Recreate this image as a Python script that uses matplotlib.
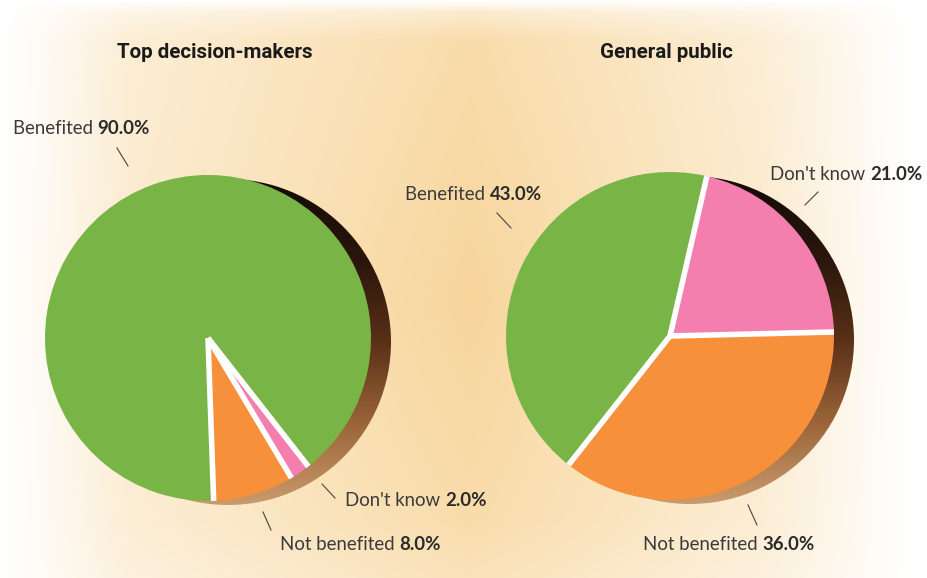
import numpy as np
import matplotlib
matplotlib.use("Agg")
import matplotlib.pyplot as plt
from matplotlib.patches import Circle
from matplotlib.colors import LinearSegmentedColormap

# ---- data ----
categories = ['Benefited', 'Not benefited', "Don't know"]
left_values = [90.0, 8.0, 2.0]
right_values = [43.0, 36.0, 21.0]
titles = ['Top decision-makers', 'General public']
colors = ['#79b446', '#f7903a', '#f47fae']

W, H = 928, 578
fig = plt.figure(figsize=(W / 100, H / 100), dpi=100)
ax = fig.add_axes([0, 0, 1, 1])

# ---- background gradient ----
xs = np.arange(W)
ys = np.arange(H)
hx = np.interp(xs, [0, 60, 130, 300, 470, 560, 760, 850, 900, 928],
               [0.0, 0.2, 0.5, 0.75, 1.0, 0.85, 0.5, 0.2, 0.03, 0.0])
vy = np.interp(ys, [0, 12, 40, 300, 520, 578], [0.0, 0.5, 0.85, 1.0, 0.85, 0.7])
t = np.outer(vy, hx)[..., None]
white = np.array([1.0, 1.0, 1.0])
peach = np.array([0xf8, 0xd6, 0x9c]) / 255
bg = white * (1 - t) + peach * t
ax.imshow(bg, extent=(0, W, 0, H), origin='upper', zorder=0, aspect='auto')

shadow_cmap = LinearSegmentedColormap.from_list(
    'sh', ['#c99a6c', '#9a6438', '#5a3018', '#2a160c', '#150b06'])

pies = [
    dict(values=left_values, c=(208, 240), r=163, start=-52, title_x=215),
    dict(values=right_values, c=(670, 242), r=164, start=77, title_x=666),
]

for p, title in zip(pies, titles):
    cx, cy = p['c']
    r = p['r']
    sx, sy = cx + 20, cy - 4
    grad = np.linspace(0, 1, 200)[:, None] * np.ones((1, 10))
    im = ax.imshow(grad, extent=(sx - r, sx + r, sy - r, sy + r), origin='lower',
                   cmap=shadow_cmap, zorder=1, aspect='auto')
    im.set_clip_path(Circle((sx, sy), r, transform=ax.transData))
    wedges, _ = ax.pie(p['values'], colors=colors, center=(cx, cy), radius=r,
                       startangle=p['start'], counterclock=True, frame=True,
                       wedgeprops=dict(edgecolor='none', linewidth=0, zorder=2))
    # white separators between slices
    for w in wedges:
        th = np.deg2rad(w.theta1)
        ax.plot([cx, cx + r * np.cos(th)], [cy, cy + r * np.sin(th)],
                color='white', lw=4, solid_capstyle='butt', zorder=3)
    ax.text(p['title_x'], H - 53, title, ha='center', va='center', fontsize=14.8,
            fontweight='bold', family=['Roboto', 'DejaVu Sans'],
            color='#1a1a1a', zorder=5)

label_font = ['Lato', 'DejaVu Sans']

def label(x, y, name, val, line):
    t = ax.text(x, H - y, name + ' ', ha='left', va='center', fontsize=13.4,
                family=label_font, color='#3a3a3a', zorder=5)
    ax.annotate(f'{val:.1f}%', xy=(1, 0), xycoords=t, ha='left', va='bottom',
                fontsize=13.4, fontweight='bold', family=label_font,
                color='#2a2a2a', zorder=5)
    (x0, y0), (x1, y1) = line
    ax.plot([x0, x1], [H - y0, H - y1], color='#444444', lw=0.8, zorder=5)

label(13, 128, categories[0], left_values[0], ((117, 148), (128, 166)))
label(345, 500, categories[2], left_values[2], ((322, 484), (335, 498)))
label(280, 544, categories[1], left_values[1], ((263, 512), (271, 530)))
label(405, 195, categories[0], right_values[0], ((497, 213), (511, 228)))
label(770, 175, categories[2], right_values[2], ((805, 205), (818, 192)))
label(643, 545, categories[1], right_values[1], ((748, 505), (757, 525)))

ax.set_xlim(0, W)
ax.set_ylim(0, H)
ax.set_aspect('auto')
ax.axis('off')
fig.savefig('out.png', dpi=100)
